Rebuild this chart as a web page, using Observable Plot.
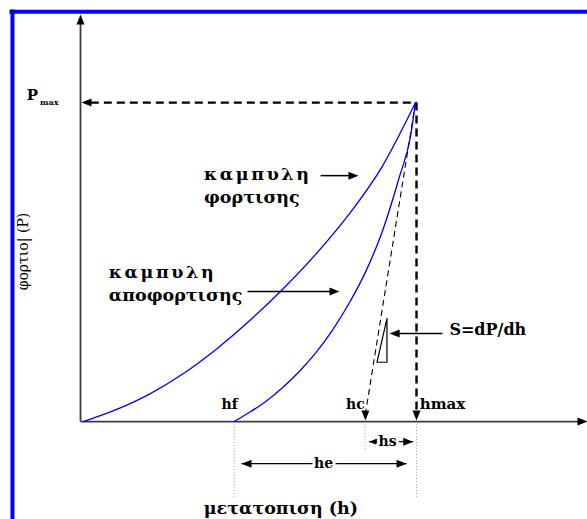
<!DOCTYPE html>
<html><head><meta charset="utf-8">
<script src="https://cdn.jsdelivr.net/npm/d3@7"></script>
<script src="https://cdn.jsdelivr.net/npm/@observablehq/plot@0.6"></script>
<style>body{margin:0;background:#fff} svg{display:block}</style>
</head><body><div id="chart"></div>
<script>
// Load–displacement (nanoindentation) curves, in units where hmax = 100, Pmax = 100
const loadH   = [0, 10, 20, 30, 40, 50, 60, 70, 80, 90, 100];
const loadP   = [0, 3.8, 8.7, 15.0, 22.7, 31.6, 41.5, 52.5, 65.0, 80.0, 100];
const unloadH = [45.4, 50, 55, 60, 65, 70, 75, 80, 85, 90, 95, 98.5, 100];
const unloadP = [0, 2.9, 6.4, 10.7, 15.7, 21.6, 28.7, 37.1, 47.0, 59.6, 76.2, 89.5, 100];
const hf = 45.4, hc = 84.8, hmax = 100.3, Pmax = 100;

const loading = loadH.map((h, i) => ({h, P: loadP[i]}));
const unloading = unloadH.map((h, i) => ({h, P: unloadP[i]}));

// annotation geometry (data units)
const frame = [{x1: -22.3, y1: 128.5, x2: 151.8, y2: 128.5}, {x1: -21.4, y1: 129.2, x2: -21.4, y2: -30.7}];
const axes = [{x1: -0.9, y1: 0, x2: -0.9, y2: 125}, {x1: -0.9, y1: 0, x2: 149, y2: 0}];
const heavyDashes = [{x1: 2.2, y1: Pmax, x2: hmax, y2: Pmax}, {x1: hmax, y1: Pmax, x2: hmax, y2: 3}];
const tangent = [{x1: 100, y1: Pmax, x2: hc + 0.2, y2: 3}];
const dotted = [{x: hf, y1: 0, y2: -23.8}, {x: hc, y1: 0, y2: -9.4}, {x: hmax, y1: 0, y2: -23.8}];
const dims = [{x1: 86, x2: 99.3, y: -6.3}, {x1: 47.6, x2: 97.3, y: -13.2}];
const pointers = [{x1: 71.4, y1: 77.1, x2: 80, y2: 77.1}, {x1: 49.4, y1: 40.8, x2: 75, y2: 40.8}, {x1: 108.1, y1: 27.6, x2: 95, y2: 27.6}];
const heads = [
  {x: -0.9, y: 127.6, a: 0}, {x: 151.8, y: 0, a: 90}, {x: -0.6, y: Pmax, a: 270},
  {x: hmax, y: 0.3, a: 180}, {x: hc + 0.1, y: 0.3, a: 180},
  {x: 86, y: -6.3, a: 270}, {x: 99.3, y: -6.3, a: 90},
  {x: 47.6, y: -13.2, a: 270}, {x: 97.3, y: -13.2, a: 90},
  {x: 82.8, y: 77.1, a: 90}, {x: 77.1, y: 40.8, a: 90}, {x: 92.2, y: 27.6, a: 270}
];
const slopeTri = [{h: 91.4, P: 32.3}, {h: 91.4, P: 18.6}, {h: 88.4, P: 18.6}, {h: 91.4, P: 32.3}];

const curveLabels = [
  {t: "καμπυλη", x: 36.3, y: 77.6}, {t: "φορτισης", x: 36.3, y: 70.3},
  {t: "καμπυλη", x: 7.6, y: 46.7}, {t: "αποφορτισης", x: 7.6, y: 39.4}
];
const slopeLabel = [{t: "S=dP/dh", x: 110.2, y: 28.6}];
const axisLabel = [{t: "μετατοπιση (h)", x: 36.2, y: -27.3}];
const hLabelsMid = [{t: "hf", x: 44.0, y: 5.4}, {t: "hc", x: 81.9, y: 5.4}];
const hLabelsStart = [{t: "hmax", x: 101.3, y: 5.4}];
const dimLabels = [{t: "hs", x: 91.6, y: -6.3}, {t: "he", x: 72.3, y: -13.2}];

const triHead = {draw(ctx, l, r) { ctx.moveTo(0, -l); ctx.lineTo(r, 0); ctx.lineTo(-r, 0); ctx.closePath(); }};
const serif = "DejaVu Serif";
const bold = {fontFamily: serif, fontWeight: "bold", fill: "#000"};

const chart = Plot.plot({
  width: 587, height: 519, margin: 0,
  x: {domain: [-25, 151.8], range: [0, 587], axis: null},
  y: {domain: [-30.7, 132.0], range: [519, 0], axis: null},
  style: {background: "#fff", overflow: "visible"},
  marks: [
    Plot.link(frame, {x1: "x1", y1: "y1", x2: "x2", y2: "y2", stroke: "#0000ff", strokeWidth: 4}),
    Plot.ruleX(dotted, {x: "x", y1: "y1", y2: "y2", stroke: "#a0a0a0", strokeWidth: 1, strokeDasharray: "1,2"}),
    Plot.link(axes, {x1: "x1", y1: "y1", x2: "x2", y2: "y2", stroke: "#3c3c3c", strokeWidth: 1.8}),
    Plot.link(heavyDashes, {x1: "x1", y1: "y1", x2: "x2", y2: "y2", stroke: "#000", strokeWidth: 2.4, strokeDasharray: "8,5"}),
    Plot.link(tangent, {x1: "x1", y1: "y1", x2: "x2", y2: "y2", stroke: "#000", strokeWidth: 1.1, strokeDasharray: "6,4"}),
    Plot.line(loading, {x: "h", y: "P", stroke: "#0000ee", strokeWidth: 1.3, curve: "monotone-x"}),
    Plot.line(unloading, {x: "h", y: "P", stroke: "#0000ee", strokeWidth: 1.3, curve: "monotone-x"}),
    Plot.link(dims, {x1: "x1", x2: "x2", y1: "y", y2: "y", stroke: "#000", strokeWidth: 1.3}),
    Plot.link(pointers, {x1: "x1", y1: "y1", x2: "x2", y2: "y2", stroke: "#000", strokeWidth: 1.5}),
    Plot.line(slopeTri, {x: "h", y: "P", stroke: "#000", strokeWidth: 1.2}),
    Plot.vector(heads, {x: "x", y: "y", rotate: "a", length: 10, r: 4, anchor: "end", shape: triHead, fill: "#000", stroke: "none"}),
    Plot.text(curveLabels, {x: "x", y: "y", text: "t", textAnchor: "start", fontSize: 17.5, ...bold}),
    Plot.text(slopeLabel, {x: "x", y: "y", text: "t", textAnchor: "start", fontSize: 16, ...bold}),
    Plot.text(axisLabel, {x: "x", y: "y", text: "t", textAnchor: "start", fontSize: 17.5, ...bold}),
    Plot.text(hLabelsMid, {x: "x", y: "y", text: "t", textAnchor: "middle", fontSize: 14, ...bold}),
    Plot.text(hLabelsStart, {x: "x", y: "y", text: "t", textAnchor: "start", fontSize: 15, ...bold}),
    Plot.text(dimLabels, {x: "x", y: "y", text: "t", fontSize: 14, ...bold, stroke: "#fff", strokeWidth: 6}),
    Plot.text(["P"], {x: -15.4, y: 102.2, text: d => d, fontSize: 15, ...bold}),
    Plot.text(["max"], {x: -10.3, y: 100.2, text: d => d, fontSize: 8, ...bold}),
    Plot.text(["φορτιο| (P)"], {x: -18.2, y: 53.3, text: d => d, rotate: -90, fontFamily: serif, fontSize: 14, fill: "#000"})
  ]
});
// the reference face draws "καμπυλη" as wide as "φορτισης"
d3.select(chart).selectAll("text").filter(function() { return this.textContent === "καμπυλη"; })
  .attr("letter-spacing", "2.6px");
document.getElementById("chart").appendChild(chart);
</script>
</body></html>
